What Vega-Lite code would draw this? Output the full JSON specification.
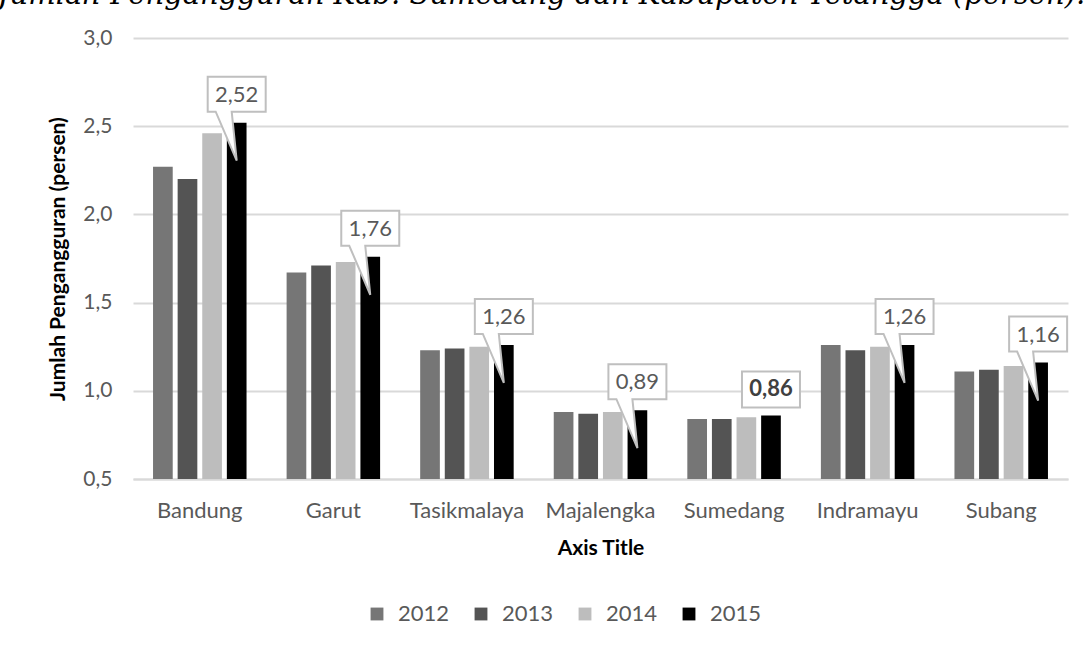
{
  "$schema": "https://vega.github.io/schema/vega-lite/v6.json",
  "autosize": {"type": "none"},
  "width": 935,
  "height": 441,
  "padding": {"left": 133, "top": 38, "right": 22, "bottom": 179},
  "background": "white",
  "title": {
    "text": "Jumlah Pengangguran Kab. Sumedang dan Kabupaten Tetangga (persen).",
    "anchor": "start",
    "dx": -50,
    "dy": 14,
    "offset": 8,
    "baseline": "alphabetic",
    "font": "DejaVu Serif",
    "fontStyle": "italic",
    "fontWeight": "normal",
    "fontSize": 29,
    "color": "black"
  },
  "config": {
    "locale": {"number": {"decimal": ",", "thousands": ".", "grouping": [3], "currency": ["", ""]}},
    "view": {"stroke": null},
    "font": "Lato"
  },
  "data": {
    "values": [
      {"kab": "Bandung", "year": "2012", "value": 2.27},
      {"kab": "Bandung", "year": "2013", "value": 2.20},
      {"kab": "Bandung", "year": "2014", "value": 2.46},
      {"kab": "Bandung", "year": "2015", "value": 2.52},
      {"kab": "Garut", "year": "2012", "value": 1.67},
      {"kab": "Garut", "year": "2013", "value": 1.71},
      {"kab": "Garut", "year": "2014", "value": 1.73},
      {"kab": "Garut", "year": "2015", "value": 1.76},
      {"kab": "Tasikmalaya", "year": "2012", "value": 1.23},
      {"kab": "Tasikmalaya", "year": "2013", "value": 1.24},
      {"kab": "Tasikmalaya", "year": "2014", "value": 1.25},
      {"kab": "Tasikmalaya", "year": "2015", "value": 1.26},
      {"kab": "Majalengka", "year": "2012", "value": 0.88},
      {"kab": "Majalengka", "year": "2013", "value": 0.87},
      {"kab": "Majalengka", "year": "2014", "value": 0.88},
      {"kab": "Majalengka", "year": "2015", "value": 0.89},
      {"kab": "Sumedang", "year": "2012", "value": 0.84},
      {"kab": "Sumedang", "year": "2013", "value": 0.84},
      {"kab": "Sumedang", "year": "2014", "value": 0.85},
      {"kab": "Sumedang", "year": "2015", "value": 0.86},
      {"kab": "Indramayu", "year": "2012", "value": 1.26},
      {"kab": "Indramayu", "year": "2013", "value": 1.23},
      {"kab": "Indramayu", "year": "2014", "value": 1.25},
      {"kab": "Indramayu", "year": "2015", "value": 1.26},
      {"kab": "Subang", "year": "2012", "value": 1.11},
      {"kab": "Subang", "year": "2013", "value": 1.12},
      {"kab": "Subang", "year": "2014", "value": 1.14},
      {"kab": "Subang", "year": "2015", "value": 1.16}
    ]
  },
  "encoding": {
    "x": {
      "field": "kab",
      "type": "nominal",
      "sort": null,
      "scale": {"paddingInner": 0.3, "paddingOuter": 0.15},
      "axis": {
        "title": "Axis Title",
        "labelAngle": 0,
        "labelFont": "Lato",
        "labelFontSize": 22,
        "labelColor": "#595959",
        "labelPadding": 21,
        "ticks": false,
        "domain": true,
        "domainColor": "#d9d9d9",
        "domainWidth": 2,
        "grid": false,
        "titleFont": "Lato",
        "titleFontSize": 21,
        "titleFontWeight": "bold",
        "titleColor": "black",
        "titlePadding": 16
      }
    },
    "xOffset": {
      "field": "year",
      "type": "nominal",
      "scale": {"domain": ["2012", "2013", "2014", "2015"], "paddingInner": 0.2, "paddingOuter": 0}
    },
    "y": {
      "field": "value",
      "type": "quantitative",
      "scale": {"domain": [0.5, 3.0], "nice": false, "zero": false},
      "axis": {
        "title": "Jumlah Pengangguran (persen)",
        "values": [0.5, 1.0, 1.5, 2.0, 2.5, 3.0],
        "format": ".1f",
        "labelFont": "Lato",
        "labelFontSize": 21,
        "labelColor": "#595959",
        "labelPadding": 21,
        "ticks": false,
        "domain": false,
        "grid": true,
        "gridColor": "#d9d9d9",
        "gridWidth": 2,
        "titleFont": "Lato",
        "titleFontSize": 21,
        "titleFontWeight": "bold",
        "titleColor": "black",
        "titlePadding": 14
      }
    }
  },
  "layer": [
    {
      "mark": {"type": "bar"},
      "encoding": {
        "y2": {"datum": 0.5},
        "color": {
          "field": "year",
          "type": "nominal",
          "scale": {"domain": ["2012", "2013", "2014", "2015"], "range": ["#767676", "#545454", "#bdbdbd", "#000000"]},
          "legend": {
            "title": null,
            "orient": "none",
            "legendX": 233,
            "legendY": 565,
            "direction": "horizontal",
            "symbolType": "square",
            "symbolSize": 165,
            "symbolStrokeWidth": 0,
            "labelFont": "Lato",
            "labelFontSize": 22,
            "labelColor": "#595959",
            "labelOffset": 10,
            "columnPadding": 20
          }
        }
      }
    },
    {
      "transform": [{"filter": "datum.year == '2015' && datum.kab != 'Sumedang'"}],
      "mark": {
        "type": "point",
        "filled": true,
        "size": 4,
        "opacity": 1,
        "fill": "white",
        "stroke": "#bfbfbf",
        "strokeWidth": 2,
        "shape": "M-29,-46 H29 V-11 H-5 L0,38 L-21,-11 H-29 Z"
      }
    },
    {
      "transform": [{"filter": "datum.year == '2015' && datum.kab == 'Sumedang'"}],
      "mark": {
        "type": "point",
        "filled": true,
        "size": 4,
        "opacity": 1,
        "fill": "white",
        "stroke": "#bfbfbf",
        "strokeWidth": 2,
        "shape": "M-29,-44 H29 V-8 H-29 Z"
      }
    },
    {
      "transform": [{"filter": "datum.year == '2015' && datum.kab != 'Sumedang'"}],
      "mark": {"type": "text", "dy": -28, "baseline": "middle", "font": "Lato", "fontSize": 22, "color": "#595959"},
      "encoding": {"text": {"field": "value", "type": "quantitative", "format": ".2f"}}
    },
    {
      "transform": [{"filter": "datum.year == '2015' && datum.kab == 'Sumedang'"}],
      "mark": {"type": "text", "dy": -26, "baseline": "middle", "font": "Lato", "fontSize": 22, "fontWeight": "bold", "color": "#404040"},
      "encoding": {"text": {"field": "value", "type": "quantitative", "format": ".2f"}}
    }
  ]
}
